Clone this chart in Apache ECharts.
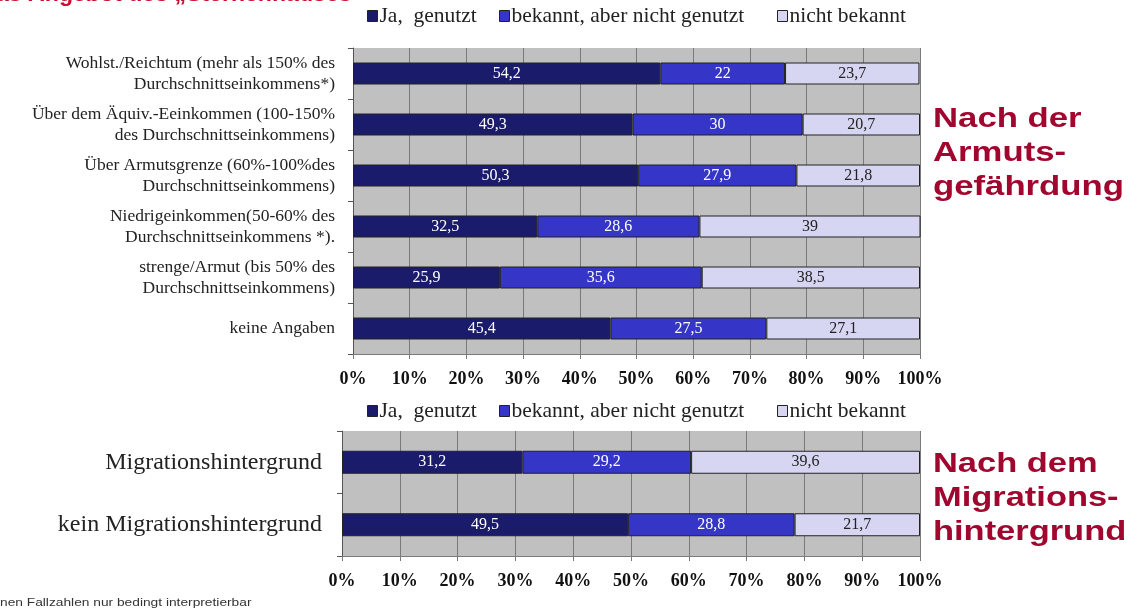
<!DOCTYPE html>
<html><head><meta charset="utf-8">
<script src="https://cdn.jsdelivr.net/npm/echarts@6/dist/echarts.min.js"></script>
<style>html,body{margin:0;padding:0;background:#fff}#c{width:1137px;height:612px}</style>
</head><body><div id="c"></div>
<script>
const seriesNames = ['Ja,  genutzt', 'bekannt, aber nicht genutzt', 'nicht bekannt'];
const catsTop = [
  'Wohlst./Reichtum (mehr als 150% des\nDurchschnittseinkommens*)',
  'Über dem Äquiv.-Eeinkommen (100-150%\ndes Durchschnittseinkommens)',
  'Über Armutsgrenze (60%-100%des\nDurchschnittseinkommens)',
  'Niedrigeinkommen(50-60% des\nDurchschnittseinkommens *).',
  'strenge/Armut (bis 50% des\nDurchschnittseinkommens)',
  'keine Angaben'
];
const topJa = [54.2, 49.3, 50.3, 32.5, 25.9, 45.4];
const topBekannt = [22, 30, 27.9, 28.6, 35.6, 27.5];
const topNicht = [23.7, 20.7, 21.8, 39, 38.5, 27.1];
const catsBottom = ['Migrationshintergrund', 'kein Migrationshintergrund'];
const botJa = [31.2, 49.5];
const botBekannt = [29.2, 28.8];
const botNicht = [39.6, 21.7];
const colors = ['#1b1b6b', '#3535c8', '#d6d6f2'];
const serif = '"Liberation Serif", "DejaVu Serif", serif';

const chart = echarts.init(document.getElementById('c'));
function fmt(p){ return String(p.value).replace('.', ','); }
function mk(name, data, idx, gi, bw){
  return {
    name: name, type: 'bar', stack: 's' + gi, xAxisIndex: gi, yAxisIndex: gi,
    data: data, barWidth: bw,
    itemStyle: { color: colors[idx], borderColor: '#222', borderWidth: 1 },
    label: { show: true, position: 'inside', formatter: fmt, fontFamily: serif, fontSize: 16,
      color: idx === 2 ? '#222' : '#fff' },
    emphasis: { disabled: true }
  };
}
const xAx = (gi) => ({
  type: 'value', gridIndex: gi, min: 0, max: 100, interval: 10,
  axisLabel: { formatter: '{value}%', fontFamily: serif, fontWeight: 'bold', fontSize: 18, color: '#111', margin: 16 },
  splitLine: { show: true, lineStyle: { color: '#7a7a7a', width: 1 } },
  axisLine: { show: true, lineStyle: { color: '#7a7a7a' } },
  axisTick: { show: true, length: 5, lineStyle: { color: '#7a7a7a' } }
});
const yAx = (gi, cats, fs, lh, margin) => ({
  type: 'category', gridIndex: gi, data: cats, inverse: true,
  axisLabel: { fontFamily: serif, fontSize: fs, lineHeight: lh, color: '#222', margin: margin, align: 'right' },
  axisLine: { show: true, lineStyle: { color: '#555' } },
  axisTick: { show: true, length: 5, lineStyle: { color: '#555' } },
  splitLine: { show: false }
});
function lg(i, left, top){
  return {
    data: [seriesNames[i]], left: left, top: top, itemWidth: 10, itemHeight: 11, padding: 0,
    textStyle: { fontFamily: serif, fontSize: 21.5, color: '#222', padding: [0, 0, 0, -3] },
    itemStyle: { borderColor: '#222', borderWidth: 1 },
    icon: 'rect', selectedMode: false
  };
}
chart.setOption({
  animation: false,
  backgroundColor: '#fff',
  legend: [
    lg(0, 367, 5), lg(1, 499, 5), lg(2, 777, 5),
    lg(0, 367, 400), lg(1, 499, 400), lg(2, 777, 400)
  ],
  grid: [
    { left: 353, top: 48, width: 567, height: 306, show: true, backgroundColor: '#c0c0c0', borderWidth: 0 },
    { left: 342, top: 431, width: 578, height: 125, show: true, backgroundColor: '#c0c0c0', borderWidth: 0 }
  ],
  xAxis: [xAx(0), xAx(1)],
  yAxis: [yAx(0, catsTop, 17.5, 21, 18), yAx(1, catsBottom, 24, 24, 20)],
  series: [
    mk(seriesNames[0], topJa, 0, 0, 22), mk(seriesNames[1], topBekannt, 1, 0, 22), mk(seriesNames[2], topNicht, 2, 0, 22),
    mk(seriesNames[0], botJa, 0, 1, 23), mk(seriesNames[1], botBekannt, 1, 1, 23), mk(seriesNames[2], botNicht, 2, 1, 23)
  ],
  graphic: [
    { type: 'text', x: -4, y: -16, scaleX: 1.05, style: { text: 'as Angebot des „Sternenhauses"', font: 'bold 22px "Liberation Sans", Arial, sans-serif', fill: '#c8102e' } },
    { type: 'text', x: 933, y: 102, scaleX: 1.24, style: { text: 'Nach der\nArmuts-\ngefährdung', font: 'bold 28px "Liberation Sans", Arial, sans-serif', lineHeight: 34, fill: '#a0062e' } },
    { type: 'text', x: 933, y: 447, scaleX: 1.23, style: { text: 'Nach dem\nMigrations-\nhintergrund', font: 'bold 28px "Liberation Sans", Arial, sans-serif', lineHeight: 34, fill: '#a0062e' } },
    { type: 'text', x: 0, y: 597, scaleX: 1.25, style: { text: 'nen Fallzahlen nur bedingt interpretierbar', font: '11px "Liberation Sans", Arial, sans-serif', fill: '#333' } }
  ]
});
</script></body></html>
